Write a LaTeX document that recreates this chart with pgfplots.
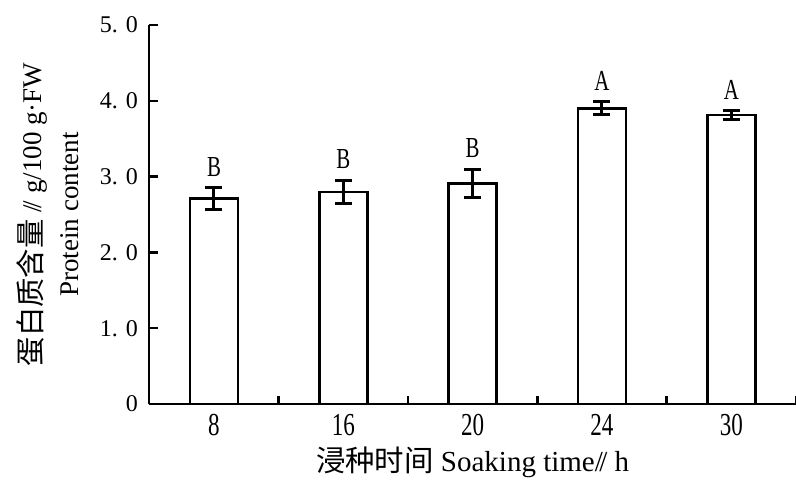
\documentclass[border=0pt]{standalone}
\usepackage{pgfplots}
\pgfplotsset{compat=1.18}
\usepackage{fontspec}
\setmainfont{Liberation Serif}
\newfontfamily\cjk{Noto Sans CJK SC}
\newfontfamily\cond[FakeStretch=0.72]{Liberation Serif}
\newcommand{\dsl}{/\kern-0.12em/}
\pgfplotstableread{
x y e t l
0 2.71 0.14 2.85 B
1 2.80 0.15 2.95 B
2 2.91 0.19 3.10 B
3 3.90 0.085 3.985 A
4 3.81 0.06 3.87 A
}\datatab
\begin{document}
\begin{tikzpicture}
\path[use as bounding box] (-74.65pt,-39.5pt) rectangle (323.35pt,202pt);
\begin{axis}[
  scale only axis, width=323.35pt, height=189.5pt,
  xmin=-0.5, xmax=4.5, ymin=0, ymax=5,
  axis lines=left, axis line style={-, line width=1.2pt},
  tick align=inside,
  xtick={0,1,2,3,4}, xticklabels={8,16,20,24,30},
  major x tick style={draw=none},
  minor xtick={-0.5,0.5,1.5,2.5,3.5,4.5},
  minor x tick style={line width=1.2pt, black}, minor tick length=4pt,
  ytick={0,1,2,3,4,5}, yticklabels={0,1. 0,2. 0,3. 0,4. 0,5. 0},
  major y tick style={line width=1.2pt, black}, major tick length=4.5pt,
  xticklabel style={font=\cond\fontsize{16}{16}\selectfont, anchor=base, inner sep=0pt, yshift=-15.5pt},
  yticklabel style={font=\fontsize{12}{12}\selectfont, anchor=east, inner sep=0pt, xshift=-5.5pt},
  xlabel={{\cjk\fontsize{14.7}{15}\selectfont 浸种时间} Soaking time\dsl\ h},
  xlabel style={font=\fontsize{14.5}{15}\selectfont, at={(axis description cs:0.5,0)}, anchor=base, yshift=-33.9pt},
  ylabel={{\cjk\fontsize{14.7}{15}\selectfont 蛋白质含量} \dsl\ g/100 g·FW\\Protein content},
  ylabel style={font=\fontsize{13.5}{18.5}\selectfont, align=center, at={(axis description cs:-0.157,0.5)}, anchor=center},
  clip=false,
]
\addplot[ybar, bar width=24pt, fill=white, draw=black, line width=1.2pt,
  error bars/.cd, y dir=both, y explicit,
  error bar style={line width=1.5pt, black},
  error mark options={line width=1.5pt, mark size=4.25pt, black, rotate=90}]
  table[x=x, y=y, y error=e] {\datatab};
\addplot[draw=none, mark=none, nodes near coords, point meta=explicit symbolic,
  nodes near coords style={font=\cond\fontsize{14.5}{14.5}\selectfont, anchor=south, inner sep=0pt, yshift=5.5pt}]
  table[x=x, y=t, meta=l] {\datatab};
\end{axis}
\end{tikzpicture}
\end{document}
